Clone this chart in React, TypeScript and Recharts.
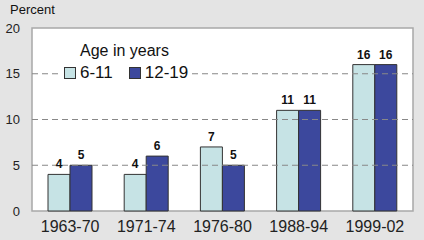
import {
  BarChart,
  Bar,
  XAxis,
  YAxis,
  ReferenceLine,
  ReferenceArea,
  LabelList,
} from 'recharts';

const periods = ['1963-70', '1971-74', '1976-80', '1988-94', '1999-02'];
const age6to11 = [4, 4, 7, 11, 16];
const age12to19 = [5, 6, 5, 11, 16];
const yTicks = [0, 5, 10, 15, 20];
const gridLines = [5, 10, 15];

const LIGHT = '#c6e3e5';
const DARK = '#3c489d';
const FONT = '"Liberation Sans", Arial, sans-serif';

const data = periods.map((p, i) => ({
  period: p,
  a: age6to11[i],
  b: age12to19[i],
}));

function AgeLegend() {
  const item = (color: string, label: string, gap: number) => (
    <span style={{ display: 'inline-flex', alignItems: 'center', marginRight: gap }}>
      <span
        style={{
          width: 10,
          height: 10,
          background: color,
          border: '1px solid #333',
          marginRight: 4,
          display: 'inline-block',
        }}
      />
      <span style={{ fontSize: 17 }}>{label}</span>
    </span>
  );
  return (
    <div
      style={{
        position: 'absolute',
        left: 61,
        top: 40,
        fontFamily: FONT,
        color: '#111',
        background: '#fff',
        padding: '0 3px',
      }}
    >
      <div style={{ fontSize: 16, marginLeft: 16, lineHeight: '22px' }}>Age in years</div>
      <div style={{ lineHeight: '22px', whiteSpace: 'nowrap', display: 'flex' }}>
        {item(LIGHT, '6-11', 16)}
        {item(DARK, '12-19', 0)}
      </div>
    </div>
  );
}

export default function App() {
  return (
    <div
      style={{
        position: 'absolute',
        left: 0,
        top: 0,
        width: 424,
        height: 240,
        background: '#e4e4e4',
        fontFamily: FONT,
      }}
    >
      <div style={{ position: 'absolute', left: 10, top: 2, fontSize: 13, color: '#111' }}>
        Percent
      </div>
      <BarChart
        width={424}
        height={240}
        data={data}
        margin={{ top: 28, right: 11, bottom: 0, left: 0 }}
        barGap={0}
        barCategoryGap={16}
      >
        <ReferenceArea y1={0} y2={20} fill="#fff" fillOpacity={1} stroke="#a8a8a8" strokeWidth={1.5} />
        {gridLines.map((v) => (
          <ReferenceLine key={v} y={v} stroke="#888" strokeDasharray="6 4" strokeWidth={1.2} />
        ))}
        <XAxis
          dataKey="period"
          axisLine={false}
          tickLine={false}
          height={29}
          tick={{ fontSize: 16, fill: '#222', fontFamily: FONT }}
          tickMargin={4}
          interval={0}
        />
        <YAxis
          width={32}
          domain={[0, 20]}
          ticks={yTicks}
          axisLine={false}
          tickLine={false}
          tick={{ fontSize: 13, fill: '#222', fontFamily: FONT }}
          tickMargin={6}
        />
        <Bar dataKey="a" fill={LIGHT} stroke="#333" strokeWidth={1} isAnimationActive={false}>
          <LabelList
            dataKey="a"
            position="top"
            offset={6}
            style={{ fontSize: 12, fontWeight: 'bold', fill: '#111', fontFamily: FONT }}
          />
        </Bar>
        <Bar dataKey="b" fill={DARK} stroke="#333" strokeWidth={1} isAnimationActive={false}>
          <LabelList
            dataKey="b"
            position="top"
            offset={6}
            style={{ fontSize: 12, fontWeight: 'bold', fill: '#111', fontFamily: FONT }}
          />
        </Bar>
      </BarChart>
      <AgeLegend />
    </div>
  );
}
